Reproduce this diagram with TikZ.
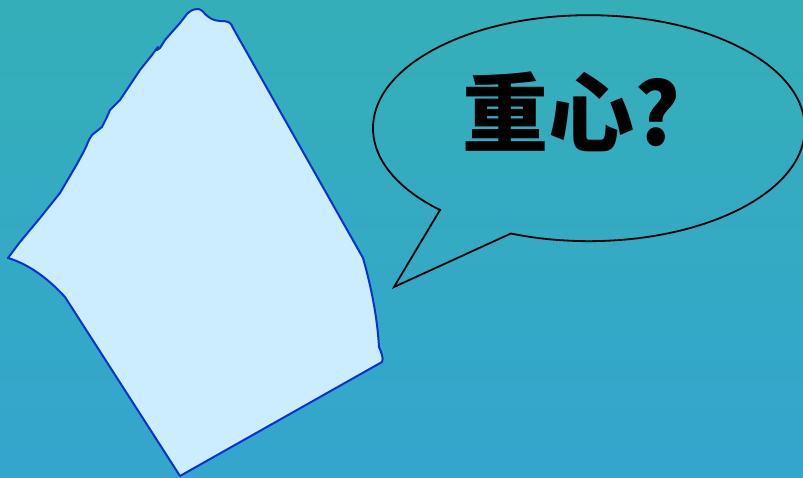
\documentclass[tikz,border=0pt]{standalone}
\usepackage{fontspec}
\newfontfamily\cjk{Noto Sans CJK SC}
\definecolor{bgtop}{RGB}{52,175,184}
\definecolor{bgbot}{RGB}{52,165,206}
\definecolor{shapefill}{RGB}{204,236,255}
\definecolor{shapeline}{RGB}{10,50,210}
\tikzset{
  plate/.style={fill=shapefill, draw=shapeline, line width=2pt, line join=round},
  bubble/.style={draw=black, line width=1.8pt, line join=miter},
  qtext/.style={font=\cjk\bfseries\fontsize{86}{90}\selectfont, text=black, inner sep=0pt}
}
\begin{document}
\begin{tikzpicture}[x=1pt,y=-1pt]
\shade[top color=bgtop, bottom color=bgbot] (0,0) rectangle (803,478);
\useasboundingbox (0,0) rectangle (803,478);
% plate
\draw[plate] (198,9) .. controls (193,9) and (190,11) .. (187,14)
  -- (180,23) -- (165,40) -- (160,48) -- (157,50) -- (158,47) -- (152,55)
  -- (140,70) -- (130,85) -- (120,100) -- (110,110) -- (107,117) -- (102,127)
  -- (92,135) .. controls (88,140) and (87,146) .. (84,151)
  -- (77,164) -- (60,193) -- (40,218) -- (20,242) -- (8,258)
  .. controls (25,263) and (45,275) .. (65,297)
  -- (180,476) -- (382,362) .. controls (384,358) and (381,352) .. (379,347)
  .. controls (378,330) and (375,300) .. (363,258)
  -- (233,28) .. controls (231,22) and (228,21) .. (220,21)
  .. controls (212,20) and (211,19) .. (205,14) .. controls (203,11) and (200,9) .. (198,9) -- cycle;
% bubble
\coordinate (tailA) at (440,210);
\coordinate (tip) at (394,287);
\coordinate (tailB) at (511,234);
\draw[bubble] (tailA) arc[start angle=133.6, end angle=471.2, x radius=216, y radius=113]
  -- (tip) -- cycle;
\node[qtext] (q) at (572,112) {重心?};
\end{tikzpicture}
\end{document}
